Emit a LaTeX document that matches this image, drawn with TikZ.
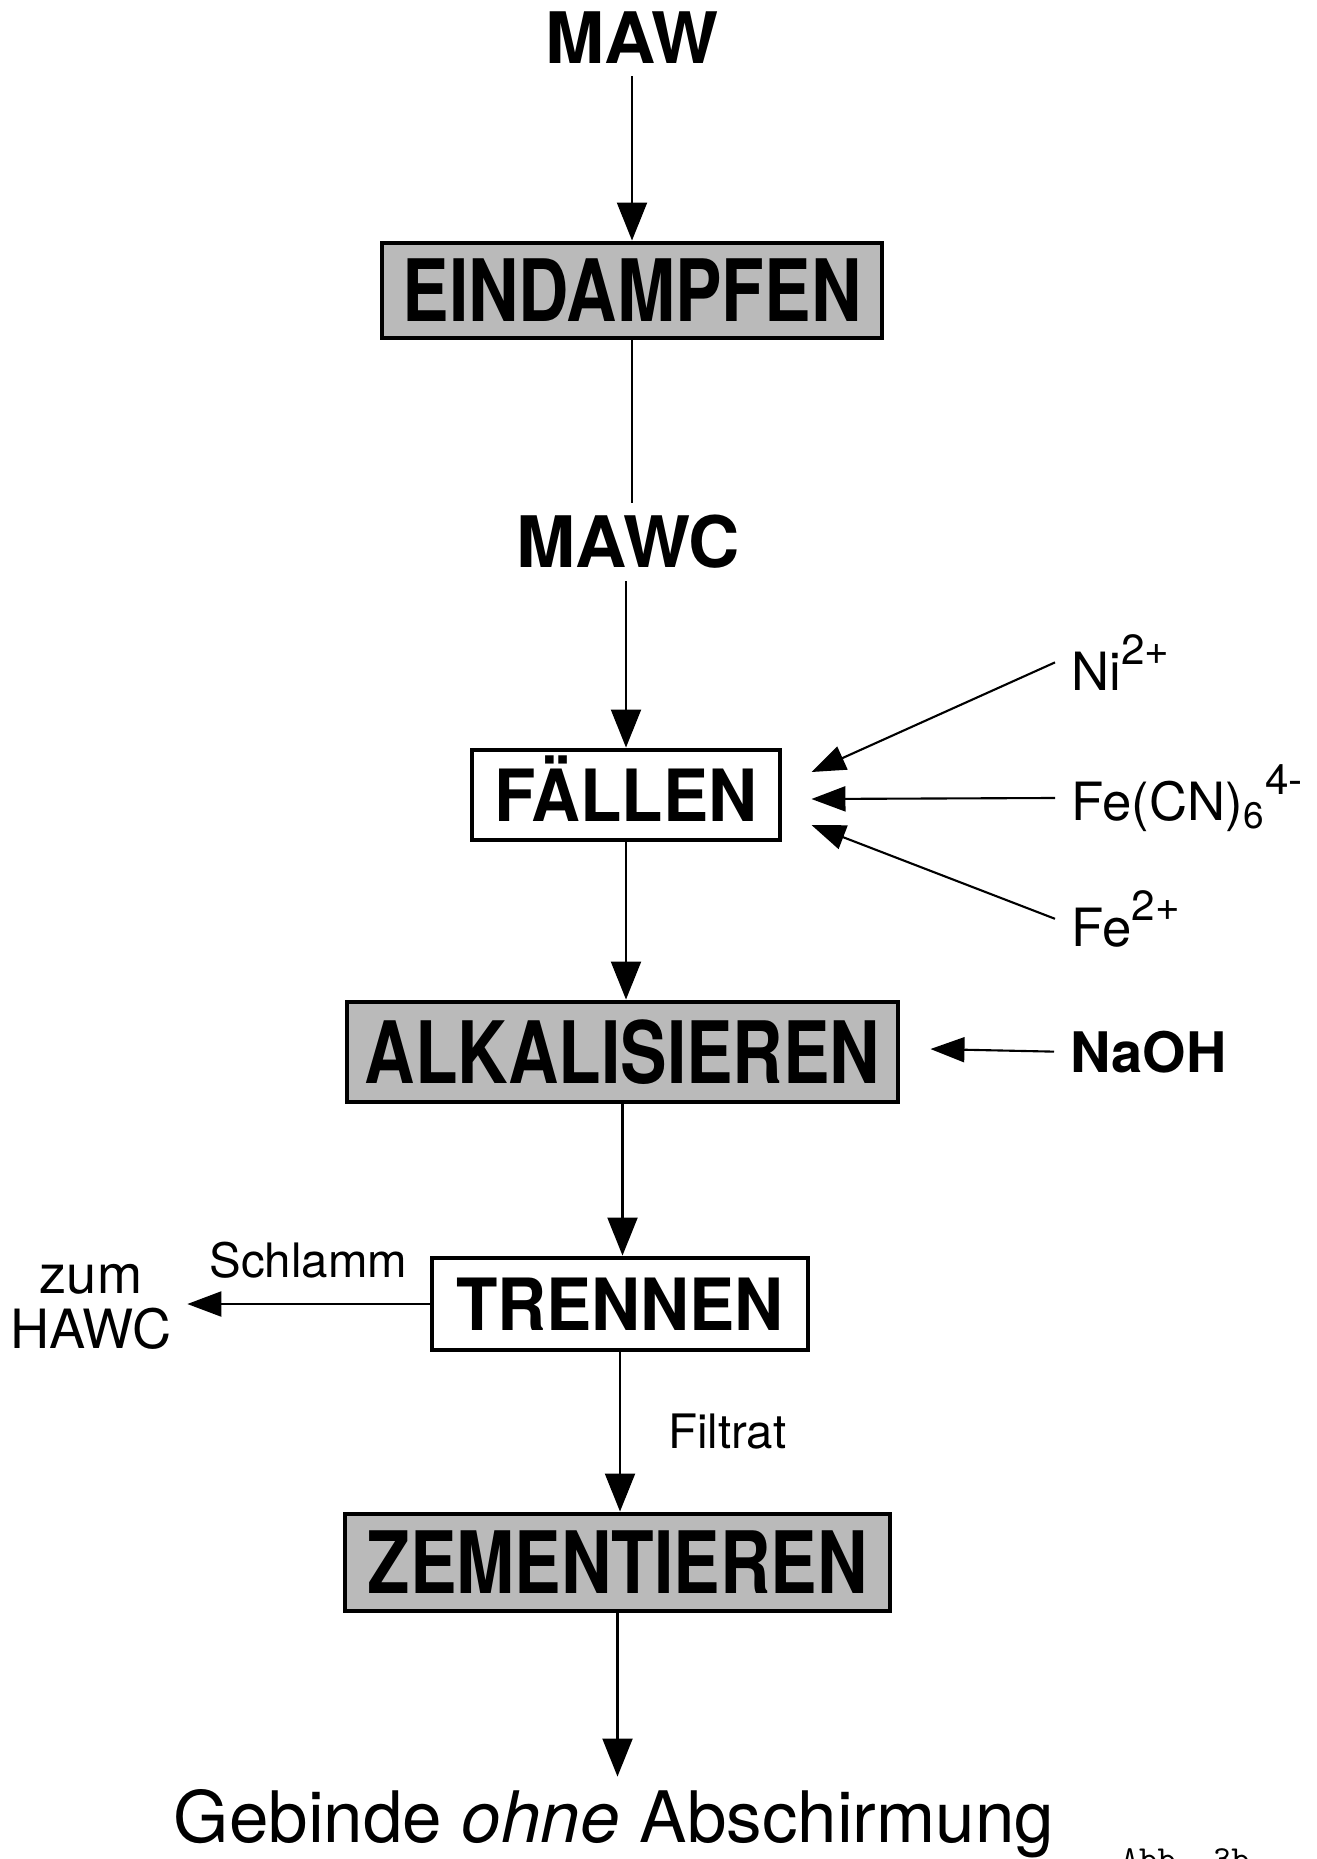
\documentclass[tikz,border=0pt]{standalone}
\usepackage{fontspec}
\setmainfont{TeX Gyre Heros}
\newfontfamily\narrowfont[FakeStretch=0.81]{TeX Gyre Heros}
\newfontfamily\semifont[FakeStretch=0.94]{TeX Gyre Heros}
\usetikzlibrary{arrows.meta,calc}
\tikzset{
  stage/.style={rectangle,draw,line width=1.4pt,inner sep=0pt,
    text depth=0pt,minimum height=0.95cm},
  greybox/.style={stage,fill=black!27,text height=0.62cm,
    font=\narrowfont\bfseries\fontsize{24.5}{28}\selectfont},
  whitebox/.style={stage,fill=white,text height=0.52cm,minimum height=0.9cm,
    font=\semifont\bfseries\fontsize{20.5}{24}\selectfont},
  stream/.style={font=\bfseries\fontsize{20.2}{23}\selectfont},
  reagent/.style={anchor=base west,inner xsep=0.16cm,inner ysep=0pt,
    font=\fontsize{15}{17}\selectfont},
  note/.style={inner sep=0pt,font=\fontsize{13.5}{16}\selectfont},
  arr/.style={-{Triangle[length=0.38cm,width=0.3cm]},line width=0.6pt},
  sidearr/.style={-{Triangle[length=0.34cm,width=0.25cm]},line width=0.6pt}
}
\newcommand{\charge}[1]{\raisebox{0.48em}{\scalebox{0.8}{#1}}}

\begin{document}
\begin{tikzpicture}
  \useasboundingbox (0,0) rectangle (13.17,-18.59);
  \clip (0,0) rectangle (13.17,-18.59);

  % main process line
  \node[stream] (maw) at (6.32,-0.38) {MAW};
  \node[greybox,minimum width=5.0cm] (eind) at (6.32,-2.905) {EINDAMPFEN};
  \node[stream] (mawc) at (6.28,-5.42) {MAWC};
  \node[whitebox,minimum width=3.08cm] (faell) at (6.26,-7.95) {FÄLLEN};
  \node[greybox,minimum width=5.51cm,minimum height=1.0cm] (alk) at (6.225,-10.52) {ALKALISIEREN};
  \node[whitebox,minimum width=3.76cm,minimum height=0.92cm] (trenn) at (6.20,-13.04) {TRENNEN};
  \node[greybox,minimum width=5.45cm,minimum height=0.97cm] (zem) at (6.175,-15.625) {ZEMENTIEREN};
  \node[anchor=base,font=\fontsize{20.2}{24}\selectfont] (gebinde) at (6.14,-18.42)
    {Gebinde \textit{ohne} Abschirmung};

  \draw[arr] (eind.north |- maw.south) -- (eind.north);
  \draw[line width=0.6pt] (eind.south) -- (eind.south |- mawc.north);
  \draw[arr] (faell.north |- mawc.south) -- (faell.north);
  \draw[arr] (faell.south) -- (faell.south |- alk.north);
  \draw[arr] (alk.south) -- (alk.south |- trenn.north);
  \draw[arr] (trenn.south) -- (trenn.south |- zem.north)
    node[note,midway,right=0.47cm] {Filtrat};
  \draw[arr] (zem.south) -- (zem.south |- gebinde.north);

  % additions to the precipitation
  \node[reagent] (ni) at (10.55,-6.90) {Ni\charge{2+}};
  \node[reagent] (fecn) at (10.55,-8.20) {Fe(CN)\textsubscript{6}\charge{4-}};
  \node[reagent] (fe) at (10.55,-9.46) {Fe\charge{2+}};
  \coordinate (inNi) at ([shift={(0.29,0.23)}]faell.east);
  \coordinate (inFeCN) at ([shift={(0.29,-0.04)}]faell.east);
  \coordinate (inFe) at ([shift={(0.29,-0.30)}]faell.east);
  \draw[sidearr] (ni.west) -- (inNi);
  \draw[sidearr] (fecn.west) -- (inFeCN);
  \draw[sidearr] (fe.west) -- (inFe);

  \node[reagent,font=\bfseries\fontsize{15.9}{18}\selectfont] (naoh) at (10.54,-10.72) {NaOH};
  \coordinate (inNaOH) at ([shift={(0.30,0.03)}]alk.east);
  \draw[sidearr] (naoh.west) -- (inNaOH);

  % sludge goes off to the left
  \node[align=center,inner sep=0.15cm,font=\fontsize{15.4}{15.6}\selectfont] (hawc) at (0.91,-13.07) {zum\\HAWC};
  \draw[sidearr] (trenn.west) -- (trenn.west -| hawc.east)
    node[note,midway,above=0.25cm] {Schlamm};

  \node[anchor=base west,inner sep=0pt,font=\ttfamily\fontsize{10}{12}\selectfont] (abb) at (11.2,-18.70) {Abb.~3b};
\end{tikzpicture}
\end{document}
